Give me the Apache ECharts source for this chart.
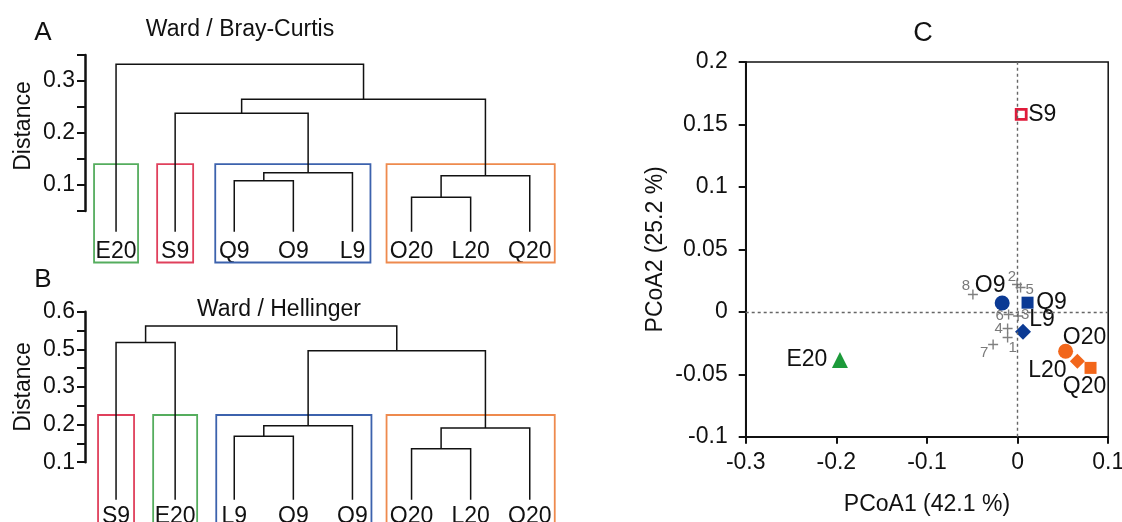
<!DOCTYPE html>
<html>
<head>
<meta charset="utf-8">
<title>Ward clustering and PCoA</title>
<script src="https://cdn.jsdelivr.net/npm/echarts@6/dist/echarts.min.js"></script>
<style>
  html, body { margin: 0; padding: 0; background: #fff; }
  #chart { width: 1122px; height: 522px; }
</style>
</head>
<body>
<div id="chart"></div>
<script>
// A: Ward / Bray-Curtis dendrogram (merge children: leaf name or 'm' + merge index)
const A_LEAVES = ['E20', 'S9', 'Q9', 'O9', 'L9', 'O20', 'L20', 'Q20'];
const A_MERGES = [['Q9', 'O9'], ['m0', 'L9'], ['O20', 'L20'], ['m2', 'Q20'], ['S9', 'm1'], ['m4', 'm3'], ['E20', 'm5']];
const A_HEIGHTS = [0.108, 0.1235, 0.0765, 0.118, 0.238, 0.265, 0.332];
const A_GROUPS = [['E20'], ['S9'], ['Q9', 'O9', 'L9'], ['O20', 'L20', 'Q20']];
const A_TICK_VALUES = [0.1, 0.2, 0.3];
const A_TICK_LABELS = ['0.1', '0.2', '0.3'];

// B: Ward / Hellinger dendrogram
const B_LEAVES = ['S9', 'E20', 'L9', 'O9', 'Q9', 'O20', 'L20', 'Q20'];
const B_MERGES = [['L9', 'O9'], ['m0', 'Q9'], ['O20', 'L20'], ['m2', 'Q20'], ['m1', 'm3'], ['S9', 'E20'], ['m5', 'm4']];
const B_HEIGHTS = [0.169, 0.197, 0.136, 0.191, 0.396, 0.418, 0.462];
const B_GROUPS = [['S9'], ['E20'], ['L9', 'O9', 'Q9'], ['O20', 'L20', 'Q20']];
const B_TICK_VALUES = [0.1, 0.2, 0.3, 0.4, 0.5];
const B_TICK_LABELS = ['0.1', '0.2', '0.3', '0.5', '0.6'];

// C: PCoA scores
const PCOA_SAMPLES = ['S9', 'O9', 'Q9', 'L9', 'O20', 'L20', 'Q20', 'E20'];
const PCOA1 = [0.004, -0.017, 0.011, 0.006, 0.053, 0.066, 0.0805, -0.196];
const PCOA2 = [0.158, 0.007, 0.0073, -0.016, -0.0316, -0.0396, -0.0449, -0.0386];
const SPECIES = ['1', '2', '3', '4', '5', '6', '7', '8'];
const SPECIES_X = [-0.011, -0.0006, 0.0006, -0.011, 0.0033, -0.0099, -0.027, -0.0493];
const SPECIES_Y = [-0.0206, 0.0219, -0.0034, -0.0134, 0.0195, -0.0022, -0.0262, 0.0139];
const PCOA_X_TICKS = { min: -0.3, max: 0.1, step: 0.1 };
const PCOA_Y_TICKS = { min: -0.1, max: 0.2, step: 0.05 };

// styles
const FONT = '"Liberation Sans", Arial, sans-serif';
const INK = '#111';
const BLUE = '#0b3a94', ORANGE = '#f2661a', GREEN = '#1c9a3a', RED = '#e01a3a';
const LEAF_COLOR = {
  E20: '#55ad5e', S9: '#e0405c',
  Q9: '#3c62ad', O9: '#3c62ad', L9: '#3c62ad',
  O20: '#ee8a4e', L20: '#ee8a4e', Q20: '#ee8a4e'
};
const LABEL_PAD = { E20: 22, S9: 18, Q9: 19, O9: 19, L9: 18, O20: 25, L20: 24, Q20: 25 };

const MARKER = {
  S9: { symbol: 'rect', size: 10, color: '#fff', border: RED, bw: 2.8, off: [21, 0] },
  O9: { symbol: 'circle', size: 15, color: BLUE, off: [-12, -17] },
  Q9: { symbol: 'rect', size: 12, color: BLUE, off: [24, 0] },
  L9: { symbol: 'diamond', size: 16, color: BLUE, off: [19, -12] },
  O20: { symbol: 'circle', size: 15, color: ORANGE, off: [19, -14] },
  L20: { symbol: 'diamond', size: 15, color: ORANGE, off: [-30, 9] },
  Q20: { symbol: 'rect', size: 12, color: ORANGE, off: [-6, 19] },
  E20: { symbol: 'triangle', size: 16, color: GREEN, off: [-33, 0] }
};
const SPECIES_OFF = {
  '1': [5, 10], '2': [-5, -8], '3': [7, -1], '4': [-9, 0],
  '5': [9, 2], '6': [-9, 1], '7': [-9, 8], '8': [-7, -9]
};
const CROSS = 'path://M4.3,0h1.4v10h-1.4z M0,4.3h10v1.4h-10z';

const DENDROS = [
  { leaves: A_LEAVES, merges: A_MERGES, heights: A_HEIGHTS, groups: A_GROUPS,
    tickValues: A_TICK_VALUES, tickLabels: A_TICK_LABELS,
    min: 0.05, max: 0.35, leafBase: 0.01, boxTop: 0.14, boxBottom: -0.049,
    grid: { left: 86.5, top: 55, width: 472.8, height: 156 }, labelMargin: 29, namePad: 14 },
  { leaves: B_LEAVES, merges: B_MERGES, heights: B_HEIGHTS, groups: B_GROUPS,
    tickValues: B_TICK_VALUES, tickLabels: B_TICK_LABELS,
    min: 0.1, max: 0.5, leafBase: 0, boxTop: 0.2255, boxBottom: -0.12,
    grid: { left: 86.5, top: 311.7, width: 472.8, height: 150.5 }, labelMargin: 43, namePad: 0 }
];

const grids = [], xAxes = [], yAxes = [], series = [];

DENDROS.forEach(function (d, gi) {
  grids.push(Object.assign({ containLabel: false, outerBoundsMode: 'none' }, d.grid));
  xAxes.push({
    type: 'category', gridIndex: gi, data: d.leaves, boundaryGap: true,
    axisLine: { show: false }, axisTick: { show: false }, splitLine: { show: false },
    axisLabel: { interval: 0, margin: d.labelMargin, fontSize: 23, color: INK, fontFamily: FONT }
  });
  yAxes.push({
    type: 'value', gridIndex: gi, min: d.min, max: d.max, interval: 0.05, offset: 1.5,
    axisLine: { show: true, lineStyle: { color: INK, width: 2.5 } },
    axisTick: { show: true, length: 8, lineStyle: { color: INK, width: 2 } },
    splitLine: { show: false },
    axisLabel: {
      margin: 10, fontSize: 23, color: INK, fontFamily: FONT,
      formatter: function (v) {
        const k = d.tickValues.findIndex(t => Math.abs(t - v) < 1e-6);
        return k < 0 ? '' : d.tickLabels[k];
      }
    },
    name: 'Distance', nameLocation: 'middle', nameRotate: 90, nameGap: 50,
    nameTextStyle: { fontSize: 23, color: INK, fontFamily: FONT, padding: [0, 0, 0, d.namePad] }
  });

  // coloured boxes round the clusters
  series.push({
    type: 'custom', xAxisIndex: gi, yAxisIndex: gi, clip: false, silent: true,
    data: d.groups.map((g, i) => [i, d.min]),
    renderItem: function (params, api) {
      const g = d.groups[params.dataIndex];
      const first = g[0], last = g[g.length - 1];
      const p0 = api.coord([d.leaves.indexOf(first), d.boxTop]);
      const p1 = api.coord([d.leaves.indexOf(last), d.boxBottom]);
      const x0 = p0[0] - LABEL_PAD[first], x1 = p1[0] + LABEL_PAD[last];
      return {
        type: 'rect',
        shape: { x: x0, y: p0[1], width: x1 - x0, height: p1[1] - p0[1] },
        style: { fill: 'none', stroke: LEAF_COLOR[first], lineWidth: 1.8 }
      };
    }
  });

  // one bracket per merge
  series.push({
    type: 'custom', xAxisIndex: gi, yAxisIndex: gi, clip: false, silent: true, z: 3,
    data: d.merges.map((m, i) => [i, d.heights[i]]),
    renderItem: function (params, api) {
      const node = function (name) {
        if (name.charAt(0) === 'm') {
          const k = +name.slice(1);
          const a = node(d.merges[k][0]), b = node(d.merges[k][1]);
          return [(a[0] + b[0]) / 2, api.coord([0, d.heights[k]])[1]];
        }
        return api.coord([d.leaves.indexOf(name), d.leafBase]);
      };
      const m = d.merges[params.dataIndex];
      const a = node(m[0]), b = node(m[1]);
      const y = api.coord([0, d.heights[params.dataIndex]])[1];
      return {
        type: 'polyline',
        shape: { points: [[a[0], a[1]], [a[0], y], [b[0], y], [b[0], b[1]]] },
        style: { fill: 'none', stroke: INK, lineWidth: 1.5 }
      };
    }
  });
});

// C: PCoA plot
grids.push({ left: 745.7, top: 62, width: 362.5, height: 374.7, show: true, borderColor: INK, borderWidth: 1.5, outerBoundsMode: 'none' });
xAxes.push({
  type: 'value', gridIndex: 2, min: PCOA_X_TICKS.min, max: PCOA_X_TICKS.max, interval: PCOA_X_TICKS.step,
  axisLine: { show: true, onZero: false, lineStyle: { color: INK, width: 2 } },
  axisTick: { show: true, length: 7, lineStyle: { color: INK, width: 2 } },
  splitLine: { show: false },
  axisLabel: { margin: 14, fontSize: 23, color: INK, fontFamily: FONT },
  name: 'PCoA1 (42.1 %)', nameLocation: 'middle', nameGap: 56,
  nameTextStyle: { fontSize: 23, color: INK, fontFamily: FONT }
});
yAxes.push({
  type: 'value', gridIndex: 2, min: PCOA_Y_TICKS.min, max: PCOA_Y_TICKS.max, interval: PCOA_Y_TICKS.step,
  axisLine: { show: true, onZero: false, lineStyle: { color: INK, width: 2 } },
  axisTick: { show: true, length: 7, lineStyle: { color: INK, width: 2 } },
  splitLine: { show: false },
  axisLabel: { margin: 18, fontSize: 23, color: INK, fontFamily: FONT },
  name: 'PCoA2 (25.2 %)', nameLocation: 'middle', nameRotate: 90, nameGap: 79,
  nameTextStyle: { fontSize: 23, color: INK, fontFamily: FONT }
});

series.push({
  type: 'scatter', xAxisIndex: 2, yAxisIndex: 2, silent: true, z: 2,
  symbol: CROSS, symbolSize: 10, itemStyle: { color: '#808080', opacity: 1 },
  data: SPECIES.map((s, i) => ({
    name: s, value: [SPECIES_X[i], SPECIES_Y[i]],
    label: { offset: SPECIES_OFF[s] }
  })),
  label: { show: true, position: 'inside', formatter: '{b}', fontSize: 15, color: '#7a7a7a', fontFamily: FONT },
  markLine: {
    silent: true, symbol: ['none', 'none'], label: { show: false },
    lineStyle: { color: '#666', type: [3, 3], width: 1.4 },
    data: [{ xAxis: 0 }, { yAxis: 0 }]
  }
});

series.push({
  type: 'scatter', xAxisIndex: 2, yAxisIndex: 2, silent: true, z: 4,
  data: PCOA_SAMPLES.map(function (s, i) {
    const m = MARKER[s];
    return {
      name: s, value: [PCOA1[i], PCOA2[i]], symbol: m.symbol, symbolSize: m.size,
      itemStyle: { color: m.color, borderColor: m.border || m.color, borderWidth: m.bw || 0, opacity: 1 },
      label: { offset: m.off }
    };
  }),
  label: { show: true, position: 'inside', formatter: '{b}', fontSize: 23, color: INK, fontFamily: FONT }
});

const text = (x, y, t, size) => ({
  type: 'text', x: x, y: y, silent: true,
  style: { text: t, fontSize: size, fontFamily: FONT, fill: INK, align: 'center', verticalAlign: 'middle' }
});

const chart = echarts.init(document.getElementById('chart'), null, { renderer: 'canvas' });
chart.setOption({
  animation: false,
  backgroundColor: '#fff',
  textStyle: { fontFamily: FONT },
  grid: grids,
  xAxis: xAxes,
  yAxis: yAxes,
  series: series,
  graphic: [
    text(43, 33, 'A', 26),
    text(240, 30, 'Ward / Bray-Curtis', 23),
    text(43, 280, 'B', 26),
    text(279, 310, 'Ward / Hellinger', 23),
    text(923, 33.5, 'C', 27)
  ]
});
</script>
</body>
</html>
